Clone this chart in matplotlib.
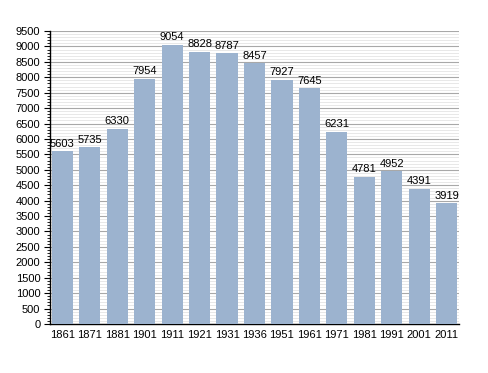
import numpy as np
import matplotlib.pyplot as plt
from matplotlib.ticker import MultipleLocator

plt.rcParams['font.family'] = ['Liberation Sans', 'DejaVu Sans']

years = ['1861', '1871', '1881', '1901', '1911', '1921', '1931', '1936',
         '1951', '1961', '1971', '1981', '1991', '2001', '2011']
population = [5603, 5735, 6330, 7954, 9054, 8828, 8787, 8457,
              7927, 7645, 6231, 4781, 4952, 4391, 3919]

fig = plt.figure(figsize=(4.88, 3.73), dpi=100)
ax = fig.add_axes([0.1025, 0.1314, 0.8381, 0.7855])

x = np.arange(len(years))
ax.bar(x, population, width=0.77, color='#9cb3cf', zorder=3)

for xi, v in zip(x, population):
    ax.text(xi, v + 80, str(v), ha='center', va='bottom', fontsize=8, zorder=4)

ax.set_xlim(-0.45, len(years) - 0.55)
ax.set_ylim(0, 9500)
ax.yaxis.set_major_locator(MultipleLocator(500))
ax.yaxis.set_minor_locator(MultipleLocator(100))
ax.grid(which='major', axis='y', color='#a8a8a8', linewidth=0.8, zorder=1)
ax.grid(which='minor', axis='y', color='#e4e4e4', linewidth=0.6, zorder=0)

ax.set_xticks(x)
ax.set_xticklabels(years)
ax.tick_params(axis='x', length=0, labelsize=8, pad=4)
ax.tick_params(axis='y', which='major', length=4, width=0.8, labelsize=8, pad=3)
ax.tick_params(axis='y', which='minor', length=2, width=0.6)

for s in ['top', 'right']:
    ax.spines[s].set_visible(False)
ax.spines['left'].set_linewidth(1.0)
ax.spines['bottom'].set_linewidth(1.0)

fig.savefig('out.png', dpi=100)
